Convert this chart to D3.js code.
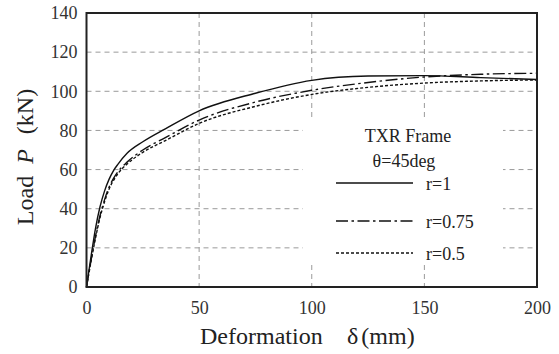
<!DOCTYPE html>
<html>
<head>
<meta charset="utf-8">
<script src="https://cdn.jsdelivr.net/npm/d3@7"></script>
<style>
  html, body { margin: 0; padding: 0; background: #fff; }
  svg { display: block; }
</style>
</head>
<body>
<svg id="chart" width="559" height="354"></svg>
<script>
// Load–deformation curves of the TXR frame (θ = 45 deg) for three r ratios
const deformation = [0, 2, 4, 6, 8, 10, 12, 14, 18, 25, 35, 50, 75, 100, 125, 150, 175, 200];
const loadR1   = [0, 15.5, 30, 41, 49, 55, 59.5, 62.8, 68.3, 74.2, 80.8, 90, 99, 105.6, 107.8, 108, 107, 106];
const loadR075 = [0, 13.5, 26, 36.5, 44.5, 51, 55.5, 59, 63.8, 70, 76.3, 85.3, 94.5, 100.5, 104.5, 107.3, 108.7, 109.2];
const loadR05  = [0, 13, 25, 35.5, 43.5, 50, 54.5, 58, 62.8, 68.8, 74.8, 83.6, 92.3, 98.4, 102, 104.2, 105.3, 105.8];
const seriesNames = ["r=1", "r=0.75", "r=0.5"];
const xTicks = [0, 50, 100, 150, 200];
const yTicks = [0, 20, 40, 60, 80, 100, 120, 140];

const SERIF = "'Liberation Serif', 'DejaVu Serif', serif";

const svg = d3.select("#chart");
const plot = { left: 86.5, right: 537, top: 13, bottom: 287 };

const x = d3.scaleLinear().domain([0, 200]).range([plot.left, plot.right]);
const y = d3.scaleLinear().domain([0, 140]).range([plot.bottom, plot.top]);

// dashed grid
const grid = svg.append("g").attr("stroke", "#9a9a9a").attr("stroke-width", 1).attr("stroke-dasharray", "5,4");
grid.selectAll("line.gx").data(xTicks.slice(1, -1)).join("line")
  .attr("x1", d => x(d)).attr("x2", d => x(d)).attr("y1", plot.top).attr("y2", plot.bottom);
grid.selectAll("line.gy").data(yTicks.slice(1, -1)).join("line")
  .attr("y1", d => y(d)).attr("y2", d => y(d)).attr("x1", plot.left).attr("x2", plot.right);

// legend backing (hides the grid behind it)
const legend = svg.append("g");
legend.append("rect").attr("x", 303).attr("y", 118).attr("width", 200).attr("height", 147).attr("fill", "#fff");

// curves
const styles = [
  { data: loadR1,   dash: null },
  { data: loadR075, dash: "12,3.5,2.5,3.5" },
  { data: loadR05,  dash: "3,2" }
];
const line = d3.line().x(d => x(d[0])).y(d => y(d[1])).curve(d3.curveMonotoneX);
svg.append("g").selectAll("path").data(styles).join("path")
  .attr("d", s => line(deformation.map((v, i) => [v, s.data[i]])))
  .attr("fill", "none").attr("stroke", "#111").attr("stroke-width", 1.4)
  .attr("stroke-dasharray", s => s.dash);

// frame
svg.append("rect").attr("x", plot.left).attr("y", plot.top)
  .attr("width", plot.right - plot.left).attr("height", plot.bottom - plot.top)
  .attr("fill", "none").attr("stroke", "#222").attr("stroke-width", 2);

// axes (labels only, frame drawn above)
const xAxis = d3.axisBottom(x).tickValues(xTicks).tickSize(0).tickPadding(14);
const yAxis = d3.axisLeft(y).tickValues(yTicks).tickSize(0).tickPadding(9);
const gx = svg.append("g").attr("transform", `translate(0,${plot.bottom})`).call(xAxis);
const gy = svg.append("g").attr("transform", `translate(${plot.left},0)`).call(yAxis);
[gx, gy].forEach(g => {
  g.select(".domain").remove();
  g.selectAll("text").style("font-family", SERIF).style("font-size", "18px").attr("fill", "#333");
});

// axis titles
const xt = svg.append("text").attr("x", 200).attr("y", 344)
  .style("font-family", SERIF).style("font-size", "24px").attr("fill", "#222");
xt.append("tspan").text("Deformation");
xt.append("tspan").attr("x", 347).text("δ");
xt.append("tspan").attr("dx", 3).text("(mm)");

const yt = svg.append("text").attr("transform", "translate(33,157) rotate(-90)")
  .attr("text-anchor", "middle").style("font-family", SERIF).style("font-size", "24px").attr("fill", "#222");
yt.append("tspan").text("Load");
yt.append("tspan").attr("dx", 12).style("font-style", "italic").text("P");
yt.append("tspan").attr("dx", 15).text("(kN)");

// legend content
const legendText = (tx, ty, str, anchor) => legend.append("text").attr("x", tx).attr("y", ty)
  .attr("text-anchor", anchor).style("font-family", SERIF).style("font-size", "18px")
  .attr("fill", "#222").text(str);
legendText(408, 142, "TXR Frame", "middle");
legendText(404, 167, "θ=45deg", "middle");
const rowY = [183, 221, 253];
styles.forEach((s, i) => {
  legend.append("line").attr("x1", 336).attr("x2", 413).attr("y1", rowY[i]).attr("y2", rowY[i])
    .attr("stroke", "#111").attr("stroke-width", 1.4).attr("stroke-dasharray", s.dash);
  legendText(426, rowY[i] + 7, seriesNames[i], "start");
});
</script>
</body>
</html>
